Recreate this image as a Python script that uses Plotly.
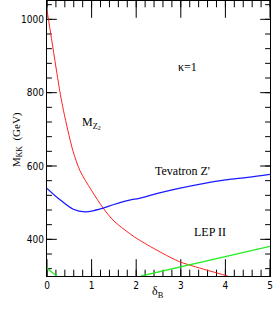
import numpy as np
import plotly.graph_objects as go

red_x = [0, 0.1, 0.2, 0.3, 0.37, 0.47, 0.58, 0.74, 0.99, 1.26, 1.5, 1.85, 2.07, 2.59, 2.97, 3.33, 3.7, 4.05]
red_y = [1025, 948, 870, 795, 751, 696, 642, 587, 535, 485, 450, 416, 398, 362, 339, 325, 312, 300]

blue_x = [0, 0.3, 0.59, 0.85, 1.1, 1.26, 1.5, 1.85, 2.07, 2.5, 2.96, 3.5, 4.0, 4.5, 5.0]
blue_y = [539, 507, 482, 475, 480, 485, 495, 507, 512, 526, 539, 552, 562, 569, 577]

green_x = [0, 0.22, None, 2.11, 5.0]
green_y = [321, 300, None, 300, 381]

x_range = [0, 5]
y_range = [300, 1050]
x_major, x_minor = 1, 0.2
y_major, y_minor = 200, 40

W, H = 273, 316
ML, MR, MT, MB = 47, 3, 1, 40

fig = go.Figure()

# inside tick marks on all four sides, as half-clipped line markers at the axis edges
def tick_trace(xs, ys, symbol, length):
    fig.add_trace(go.Scatter(x=xs, y=ys, mode="markers", cliponaxis=True, hoverinfo="skip", showlegend=False,
                             marker=dict(symbol=symbol, size=2 * length, color="black",
                                         line=dict(color="black", width=1))))

for step, length in ((x_minor, 4.5), (x_major, 12)):
    vals = list(np.arange(x_range[0], x_range[1] + 1e-9, step))
    tick_trace(vals * 2, [y_range[0]] * len(vals) + [y_range[1]] * len(vals), "line-ns-open", length)
for step, length in ((y_minor, 3.5), (y_major, 7)):
    start = np.ceil(y_range[0] / step) * step
    vals = list(np.arange(start, y_range[1] + 1e-9, step))
    tick_trace([x_range[0]] * len(vals) + [x_range[1]] * len(vals), vals * 2, "line-ew-open", length)

fig.add_trace(go.Scatter(x=red_x, y=red_y, mode="lines", line=dict(color="#ff2020", width=1, shape="spline", smoothing=0.8), showlegend=False))
fig.add_trace(go.Scatter(x=blue_x, y=blue_y, mode="lines", line=dict(color="#1a1aff", width=1.3, shape="spline"), showlegend=False))
fig.add_trace(go.Scatter(x=green_x, y=green_y, mode="lines", line=dict(color="#22ee22", width=1.3), showlegend=False, connectgaps=False))

serif = "Liberation Serif, Times New Roman, serif"
narrow = "Liberation Sans Narrow, Arial Narrow, DejaVu Sans Condensed, sans-serif"

fig.update_layout(template="none", width=W, height=H, margin=dict(l=ML, r=MR, t=MT, b=MB),
                  paper_bgcolor="white", plot_bgcolor="white")

fig.update_layout(
    xaxis=dict(range=x_range, tickmode="linear", tick0=0, dtick=x_major,
               ticks="", showline=True, linecolor="black", linewidth=1, mirror=True,
               showgrid=False, zeroline=False, automargin=False, ticklabeloverflow="allow",
               tickfont=dict(family=narrow, size=10, color="black")),
    yaxis=dict(range=y_range, tickmode="linear", tick0=0, dtick=y_major,
               ticks="", showline=True, linecolor="black", linewidth=1, mirror=True,
               showgrid=False, zeroline=False, automargin=False,
               tickfont=dict(family=narrow, size=10, color="black")),
)


def to_paper(px, py):
    return (px - ML) / (W - ML - MR), 1 - (py - MT) / (H - MT - MB)


ann = [
    dict(x=187, y=58, text="κ=1", size=12, angle=0),
    dict(x=182, y=171, text="Tevatron Z'", size=12, angle=0),
    dict(x=228, y=241, text="LEP II", size=12, angle=0),
    dict(x=80, y=123, text="M<sub>Z<sub>2</sub></sub>", size=12, angle=0),
    dict(x=158, y=302, text="δ<sub>B</sub>", size=12, angle=0),
    dict(x=8, y=140, text="M<sub>KK</sub>  (GeV)", size=11, angle=-90),
]
for a in ann:
    ax, ay = to_paper(a["x"], a["y"])
    fig.add_annotation(x=ax, y=ay, xref="paper", yref="paper", text=a["text"], textangle=a["angle"],
                       showarrow=False, font=dict(family=serif, size=a["size"], color="black"))

fig.write_html("out.html", config={"responsive": False, "displayModeBar": False},
               post_script="document.body.style.margin='0';document.body.style.padding='0';")
